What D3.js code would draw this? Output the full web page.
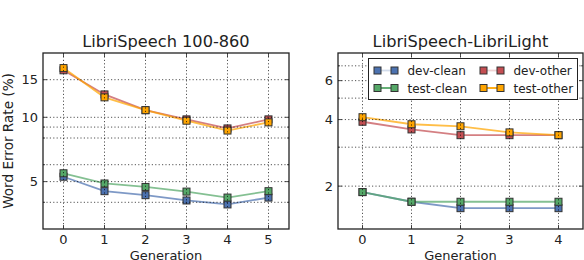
<!DOCTYPE html>
<html><head><meta charset="utf-8">
<script src="https://cdn.jsdelivr.net/npm/d3@7"></script>
<style>body{margin:0;background:#fff}svg{display:block}text{font-family:"DejaVu Sans",sans-serif;fill:#222}</style>
</head><body><svg id="c" width="584" height="260"></svg>
<script>
const seriesNames = ["dev-clean","test-clean","dev-other","test-other"];
const seriesColors = ["#4C72B0","#55A868","#C44E52","#FFA500"];

const leftTitle = "LibriSpeech 100-860";
const leftGen = [0,1,2,3,4,5];
const leftDevClean = [5.27,4.51,4.32,4.08,3.91,4.21];
const leftTestClean = [5.47,4.90,4.72,4.49,4.21,4.51];
const leftDevOther = [16.6,12.8,10.8,9.78,8.87,9.78];
const leftTestOther = [17.0,12.4,10.8,9.64,8.67,9.47];
const leftMajorTicks = [5,10,15];
const leftMinorGrid = [4,6,8,9];

const rightTitle = "LibriSpeech-LibriLight";
const rightGen = [0,1,2,3,4];
const rightDevClean = [1.88,1.70,1.59,1.59,1.59];
const rightTestClean = [1.88,1.70,1.70,1.70,1.70];
const rightDevOther = [3.91,3.61,3.40,3.40,3.40];
const rightTestOther = [4.10,3.81,3.73,3.50,3.40];
const rightMajorTicks = [2,4,6];
const rightMinorGrid = [3,5,7];

const svg = d3.select("#c");

function panel(cfg){
  const {x0,x1,y0,y1,gen,series,yDomain,major,minor,title,ylabel,legend} = cfg;
  const x = d3.scaleLinear().domain([-0.5, gen.length-0.5]).range([x0,x1]);
  const y = d3.scaleLog().domain(yDomain).range([y1,y0]);
  const g = svg.append("g");
  series.forEach((vals,i)=>{
    const pts = gen.map((d,j)=>[d,vals[j]]);
    g.append("path").attr("d", d3.line().x(d=>x(d[0])).y(d=>y(d[1]))(pts))
      .attr("fill","none").attr("stroke",seriesColors[i]).attr("stroke-width",1.8).attr("stroke-opacity",0.72);
  });
  series.forEach((vals,i)=>{
    g.selectAll(null).data(gen.map((d,j)=>[d,vals[j]])).enter().append("rect")
      .attr("x",d=>x(d[0])-3.5).attr("y",d=>y(d[1])-3.5).attr("width",7).attr("height",7)
      .attr("fill",seriesColors[i]).attr("stroke","#333").attr("stroke-width",1);
  });
  const grid = g.append("g").attr("stroke","#000").attr("stroke-width",0.8).attr("stroke-dasharray","1.2,2.2").attr("stroke-opacity",0.85);
  gen.forEach(d=>grid.append("line").attr("x1",x(d)).attr("x2",x(d)).attr("y1",y0).attr("y2",y1));
  major.concat(minor).forEach(v=>grid.append("line").attr("x1",x0).attr("x2",x1).attr("y1",y(v)).attr("y2",y(v)));
  const tk = g.append("g").attr("stroke","#222").attr("stroke-width",0.8);
  gen.forEach(d=>{
    tk.append("line").attr("x1",x(d)).attr("x2",x(d)).attr("y1",y1).attr("y2",y1-4);
    tk.append("line").attr("x1",x(d)).attr("x2",x(d)).attr("y1",y0).attr("y2",y0+4);
  });
  major.forEach(v=>{
    tk.append("line").attr("x1",x0).attr("x2",x0+4).attr("y1",y(v)).attr("y2",y(v));
    tk.append("line").attr("x1",x1).attr("x2",x1-4).attr("y1",y(v)).attr("y2",y(v));
  });
  minor.forEach(v=>{
    tk.append("line").attr("x1",x0).attr("x2",x0+2).attr("y1",y(v)).attr("y2",y(v));
    tk.append("line").attr("x1",x1).attr("x2",x1-2).attr("y1",y(v)).attr("y2",y(v));
  });
  g.append("rect").attr("x",x0).attr("y",y0).attr("width",x1-x0).attr("height",y1-y0)
    .attr("fill","none").attr("stroke","#222").attr("stroke-width",1.3);
  gen.forEach(d=>g.append("text").attr("x",x(d)).attr("y",y1+15).attr("text-anchor","middle").attr("font-size",13).text(d));
  major.forEach(v=>g.append("text").attr("x",x0-5).attr("y",y(v)+4.5).attr("text-anchor","end").attr("font-size",13).text(v));
  g.append("text").attr("x",(x0+x1)/2).attr("y",y0-6).attr("text-anchor","middle").attr("font-size",16.2).text(title);
  g.append("text").attr("x",(x0+x1)/2).attr("y",y1+31).attr("text-anchor","middle").attr("font-size",13).text("Generation");
  if(ylabel){
    g.append("text").attr("transform",`translate(13,${(y0+y1)/2}) rotate(-90)`).attr("text-anchor","middle").attr("font-size",13.6).text(ylabel);
  }
  if(legend){
    const L = legend;
    const lg = svg.append("g");
    lg.append("rect").attr("x",L.x).attr("y",L.y).attr("width",L.w).attr("height",L.h).attr("fill","#fff").attr("stroke","#222").attr("stroke-width",1);
    const lineOpac = [0.25,1,0.25,1];
    seriesNames.forEach((name,i)=>{
      const col = Math.floor(i/2), row = i%2;
      const bx = L.x + 9 + col*L.colW, by = L.y + 12 + row*17.5;
      lg.append("line").attr("x1",bx).attr("x2",bx+17).attr("y1",by).attr("y2",by)
        .attr("stroke",seriesColors[i]).attr("stroke-width",1.8).attr("stroke-opacity",lineOpac[i]);
      [bx,bx+17].forEach(px=>lg.append("rect").attr("x",px-3.5).attr("y",by-3.5).attr("width",7).attr("height",7)
        .attr("fill",seriesColors[i]).attr("stroke","#333").attr("stroke-width",1));
      lg.append("text").attr("x",bx+30).attr("y",by+4.5).attr("font-size",12).text(name);
    });
  }
}

panel({x0:43,x1:289,y0:53,y1:229,gen:leftGen,
  series:[leftDevClean,leftTestClean,leftDevOther,leftTestOther],
  yDomain:[3,20],major:leftMajorTicks,minor:leftMinorGrid,title:leftTitle,ylabel:"Word Error Rate (%)"});
panel({x0:338,x1:583,y0:53,y1:229,gen:rightGen,
  series:[rightDevClean,rightTestClean,rightDevOther,rightTestOther],
  yDomain:[1.28,8],major:rightMajorTicks,minor:rightMinorGrid,title:rightTitle,
  legend:{x:368.5,y:58.5,w:209,h:41,colW:106}});
</script></body></html>
